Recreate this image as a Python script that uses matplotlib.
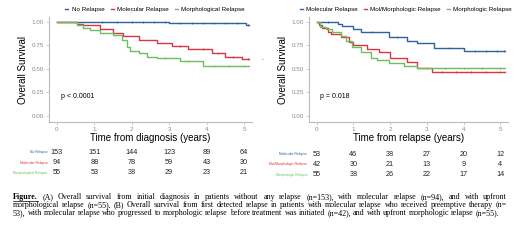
import numpy as np
import matplotlib
matplotlib.use("Agg")
import matplotlib.pyplot as plt
from matplotlib import rcParams

rcParams['font.family'] = ['Liberation Sans', 'DejaVu Sans']

# ==========================================
# data
# ==========================================
# panel A (time from diagnosis)
a_none_t = [0, 3.0, 5.05]
a_none_s = [1.0, 0.985, 0.97]
a_mol_t = [0, 0.53, 0.7, 0.88, 1.15, 1.5, 1.77, 2.2, 2.67, 3.07, 3.5, 4.14, 4.5, 4.95]
a_mol_s = [1.0, 0.98, 0.97, 0.96, 0.92, 0.88, 0.85, 0.81, 0.775, 0.745, 0.71, 0.667, 0.625, 0.60]
a_mor_t = [0, 0.53, 0.7, 0.88, 1.15, 1.5, 1.73, 1.87, 1.95, 2.2, 2.4, 2.67, 3.3, 3.9]
a_mor_s = [1.0, 0.96, 0.93, 0.91, 0.88, 0.86, 0.81, 0.73, 0.69, 0.67, 0.63, 0.61, 0.585, 0.535]
a_none_cens = [1.2, 1.6, 2.0, 2.3, 2.6, 2.9, 3.3, 3.6, 3.9, 4.2, 4.5, 4.8, 5.1]
a_mol_cens = [3.3, 3.9, 4.3, 4.7, 5.1]
a_mor_cens = [2.9, 3.5, 4.2, 4.6, 5.0]

# panel B (time from relapse)
b_mol_t = [0, 0.57, 0.7, 0.98, 1.2, 1.96, 2.47, 2.74, 3.2, 4.0]
b_mol_s = [1.0, 0.98, 0.95, 0.92, 0.89, 0.84, 0.80, 0.77, 0.72, 0.69]
b_mm_t = [0, 0.05, 0.15, 0.3, 0.4, 0.65, 0.87, 1.0, 1.38, 1.7, 2.0, 2.47, 2.74, 3.15]
b_mm_s = [1.0, 0.96, 0.93, 0.89, 0.87, 0.84, 0.78, 0.75, 0.71, 0.68, 0.62, 0.57, 0.51, 0.465]
b_mor_t = [0, 0.1, 0.25, 0.43, 0.65, 0.79, 0.97, 1.2, 1.47, 1.65, 1.96, 2.37, 2.74]
b_mor_s = [1.0, 0.94, 0.92, 0.89, 0.85, 0.80, 0.73, 0.68, 0.62, 0.59, 0.56, 0.535, 0.51]
b_mol_cens = [0.3, 1.5, 2.2, 3.6, 4.3, 4.6, 4.9, 5.1]
b_mm_cens = [3.4, 3.8, 4.2, 4.6, 5.0]
b_mor_cens = [3.0, 3.5, 4.0, 4.5, 5.0]

years = [0, 1, 2, 3, 4, 5]
a_labels = ['No Relapse', 'Molecular Relapse', 'Morphological Relapse']
a_risk = [[153, 151, 144, 123, 89, 64],
          [94, 88, 78, 59, 43, 30],
          [55, 53, 38, 29, 23, 21]]
b_labels = ['Molecular Relapse', 'Mol/Morphologic Relapse', 'Morphologic Relapse']
b_risk = [[53, 46, 38, 27, 20, 12],
          [42, 30, 21, 13, 9, 4],
          [55, 38, 26, 22, 17, 14]]

caption_lines = [
    "(A) Overall survival from initial diagnosis in patients without any relapse (n=153), with molecular relapse (n=94), and with upfront",
    "morphological relapse (n=55). (B) Overall survival from first detected relapse in patients with molecular relapse who received preemptive therapy (n=",
    "53), with molecular relapse who progressed to morphologic relapse before treatment was initiated (n=42), and with upfront morphologic relapse (n=55).",
]

colors = ['#2F63A0', '#D93644', '#6DBE5F']
grey = '#8A8A8A'


# ==========================================
# helpers
# ==========================================
def km_panel(ax, curves, cens, pval, xlabel):
    for (t, s), c, col in zip(curves, cens, colors):
        ax.step(list(t) + [5.12], list(s) + [s[-1]], where='post', color=col, lw=1.0)
        idx = np.searchsorted(t, c, side='right') - 1
        ax.plot(c, np.array(s)[idx], ls='none', marker='|', ms=2.0, mew=0.6, color=col)
    ax.set_xlim(-0.21, 5.21)
    ax.set_ylim(-0.064, 1.05)
    ax.set_xticks(years)
    ax.set_yticks([0, 0.25, 0.5, 0.75, 1.0])
    ax.set_yticklabels(['0.00', '0.25', '0.50', '0.75', '1.00'])
    for sp in ['top', 'right']:
        ax.spines[sp].set_visible(False)
    for sp in ['left', 'bottom']:
        ax.spines[sp].set_color('#BBBBBB')
        ax.spines[sp].set_linewidth(0.8)
    ax.tick_params(labelsize=4.5, labelcolor=grey, color='#BBBBBB', length=2, width=0.5, pad=1.5)
    ax.set_xlabel(xlabel, fontsize=7, labelpad=0.5)
    ax.set_ylabel('Overall Survival', fontsize=7, labelpad=3)
    ax.text(0.1, 0.19, pval, fontsize=5, transform=ax.transData)


def legend_row(fig, labels, xc, y):
    ax = fig.add_axes([xc - 0.25, y - 0.03, 0.5, 0.06])
    ax.axis('off')
    handles = [plt.Line2D([], [], color=col, lw=1.0) for col in colors]
    ax.legend(handles, labels, loc='center', ncol=3, frameon=False, fontsize=4.5,
              handlelength=0.5, handletextpad=0.5, columnspacing=1.0)


def risk_table(fig, ax, labels, risk, ys):
    for lab, row, y, col in zip(labels, risk, ys, colors):
        x0 = ax.transData.transform((0, 0))[0] / fig.bbox.width
        fig.text(x0 - 0.018, 1 - y / 250, lab, fontsize=2.4, color=col, ha='right', va='center')
        for yr, n in zip(years, row):
            xf = ax.transData.transform((yr, 0))[0] / fig.bbox.width
            fig.text(xf, 1 - y / 250, str(n), fontsize=5.2, ha='center', va='center', color='#222222')


# ==========================================
# figure
# ==========================================
fig = plt.figure(figsize=(5.2, 2.5), dpi=100)
axA = fig.add_axes([49 / 520, 1 - 122 / 250, 203 / 520, 105 / 250])
axB = fig.add_axes([309 / 520, 1 - 122 / 250, 199 / 520, 105 / 250])

km_panel(axA, [(a_none_t, a_none_s), (a_mol_t, a_mol_s), (a_mor_t, a_mor_s)],
         [a_none_cens, a_mol_cens, a_mor_cens], 'p < 0.0001', 'Time from diagnosis (years)')
km_panel(axB, [(b_mol_t, b_mol_s), (b_mm_t, b_mm_s), (b_mor_t, b_mor_s)],
         [b_mol_cens, b_mm_cens, b_mor_cens], 'p = 0.018', 'Time from relapse (years)')

legend_row(fig, a_labels, 155 / 520, 1 - 9 / 250)
legend_row(fig, b_labels, 406 / 520, 1 - 9 / 250)
fig.text(262 / 520, 1 - 59 / 250, '.', fontsize=5, color='#333333', ha='center', va='center')

risk_table(fig, axA, a_labels, a_risk, [152, 163, 173])
risk_table(fig, axB, b_labels, b_risk, [154, 164, 175])

# caption, justified word by word
serif = ['Liberation Serif', 'DejaVu Serif']
renderer = fig.canvas.get_renderer()
x_left, x_right = 13 / 520, 507 / 520

# pick a font size so the last (unjustified) line fills ~487 px naturally
probe = fig.text(0, 0, caption_lines[2], fontsize=5, family=serif)
w5 = probe.get_window_extent(renderer).width
probe.remove()
cap_fs = 5 * 487 / w5

cap_y = [197, 205, 213]
for i, (line, y) in enumerate(zip(caption_lines, cap_y)):
    words = line.split(' ')
    items = []
    if i == 0:
        items.append(fig.text(0, 1 - y / 250, 'Figure.', fontsize=cap_fs, family=serif,
                              weight='bold', va='center'))
    for w in words:
        items.append(fig.text(0, 1 - y / 250, w, fontsize=cap_fs, family=serif, va='center'))
    widths = [t.get_window_extent(renderer).width / fig.bbox.width for t in items]
    if i < len(caption_lines) - 1:
        gap = (x_right - x_left - sum(widths)) / (len(items) - 1)
    else:
        gap = cap_fs * 0.25 / 72 * 100 / 520
    x = x_left
    for t, w in zip(items, widths):
        t.set_x(x)
        x += w + gap
    if i == 0:
        fig.add_artist(plt.Line2D([x_left, x_left + widths[0]], [1 - (y + 3.5) / 250] * 2,
                                  color='black', lw=0.5, transform=fig.transFigure))

fig.savefig('out.png', dpi=100)
